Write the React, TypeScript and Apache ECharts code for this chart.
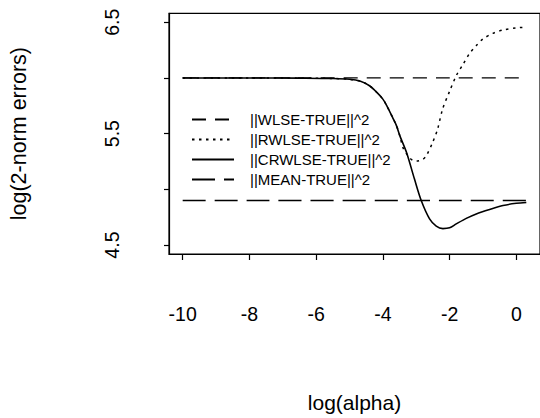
import React, { useEffect, useRef } from "react";
import * as echarts from "echarts";

const xTicks = [-10, -8, -6, -4, -2, 0];
const yTicks = [4.5, 5.0, 5.5, 6.0, 6.5];
const yLabels = [4.5, 5.5, 6.5];

const wlseX = [-10, 0.3];
const wlseY = [6.0, 6.0];

const meanX = [-10, 0.3];
const meanY = [4.9, 4.9];

const crwlseX = [-10, -8, -6.5, -5.5, -5.0, -4.67, -4.4, -4.18, -4.0, -3.88, -3.7, -3.59, -3.49, -3.29, -3.05, -2.85, -2.6, -2.4, -2.2, -2.0, -1.8, -1.5, -1.2, -0.8, -0.4, 0.0, 0.3];
const crwlseY = [6.0, 6.0, 5.998, 5.995, 5.988, 5.97, 5.93, 5.87, 5.81, 5.75, 5.64, 5.57, 5.48, 5.33, 5.09, 4.9, 4.735, 4.67, 4.648, 4.655, 4.69, 4.74, 4.78, 4.82, 4.855, 4.875, 4.882];

const rwlseX = [-10, -8, -6.5, -5.5, -5.0, -4.67, -4.4, -4.18, -4.0, -3.88, -3.7, -3.59, -3.49, -3.39, -3.2, -3.05, -2.95, -2.8, -2.7, -2.51, -2.36, -2.21, -2.0, -1.8, -1.6, -1.4, -1.2, -1.0, -0.7, -0.4, 0.0, 0.3];
const rwlseY = [6.0, 6.0, 5.998, 5.995, 5.988, 5.97, 5.93, 5.87, 5.81, 5.75, 5.64, 5.57, 5.48, 5.37, 5.285, 5.255, 5.255, 5.27, 5.3, 5.42, 5.54, 5.72, 5.88, 6.02, 6.12, 6.22, 6.29, 6.35, 6.4, 6.43, 6.45, 6.455];

const names = ["||WLSE-TRUE||^2", "||RWLSE-TRUE||^2", "||CRWLSE-TRUE||^2", "||MEAN-TRUE||^2"];

const FONT = "'Liberation Sans', Arial, Helvetica, sans-serif";

function zip(xs: number[], ys: number[]) {
  return xs.map((x, i) => [x, ys[i]]);
}

export default function App() {
  const ref = useRef<HTMLDivElement>(null);
  useEffect(() => {
    if (!ref.current) return;
    const chart = echarts.init(ref.current, null, { renderer: "svg" });
    const lw = 1.3;
    const mk = (name: string, data: number[][], type: any, width = lw) => ({
      name,
      type: "line",
      data,
      symbol: "none",
      showSymbol: false,
      smooth: 0.3,
      lineStyle: { color: "#000", width, type },
      itemStyle: { color: "#000" },
      z: 3,
    });
    chart.setOption({
      animation: false,
      backgroundColor: "#fff",
      textStyle: { fontFamily: FONT },
      grid: { left: 166.7, top: 13.3, bottom: 418 - 254.3, right: -2, show: true, borderColor: "#000", borderWidth: 1.2, containLabel: false },
      legend: {
        orient: "vertical",
        left: 186,
        top: 107,
        itemWidth: 42,
        itemHeight: 12,
        itemGap: 5,
        itemStyle: { opacity: 0, borderWidth: 0 },
        textStyle: { fontSize: 15, color: "#000", fontFamily: FONT, padding: [0, 0, 0, 11] },
        data: names,
      },
      xAxis: {
        type: "value",
        min: -10.41,
        max: 0.71,
        name: "log(alpha)",
        nameLocation: "middle",
        nameGap: 138,
        nameTextStyle: { fontSize: 21, color: "#000", fontFamily: FONT },
        axisLine: { show: true, onZero: false, lineStyle: { color: "#000", width: 1.2 } },
        axisTick: { show: true, length: 6, customValues: xTicks, lineStyle: { color: "#000", width: 1.2 } },
        axisLabel: { customValues: xTicks, margin: 50, fontSize: 19.5, color: "#000", fontFamily: FONT },
        splitLine: { show: false },
      },
      yAxis: {
        type: "value",
        min: 4.42,
        max: 6.58,
        name: "log(2-norm errors)",
        nameLocation: "middle",
        nameRotate: 90,
        nameGap: 139,
        nameTextStyle: { fontSize: 21.5, color: "#000", fontFamily: FONT },
        axisLine: { show: true, onZero: false, lineStyle: { color: "#000", width: 1.2 } },
        axisTick: { show: true, length: 5, customValues: yTicks, lineStyle: { color: "#000", width: 1.2 } },
        axisLabel: { customValues: yLabels, rotate: 90, margin: 47, fontSize: 19.5, color: "#000", fontFamily: FONT, formatter: (v: number) => v.toFixed(1) },
        splitLine: { show: false },
      },
      series: [
        mk(names[0], zip(wlseX, wlseY), [14, 9]),
        mk(names[1], zip(rwlseX, rwlseY), [2.5, 4.5], 1.5),
        mk(names[2], zip(crwlseX, crwlseY), "solid", 1.6),
        mk(names[3], zip(meanX, meanY), [23, 9]),
      ],
    });
    return () => chart.dispose();
  }, []);
  return <div ref={ref} style={{ position: "absolute", left: 0, top: 0, width: 540, height: 418 }} />;
}
